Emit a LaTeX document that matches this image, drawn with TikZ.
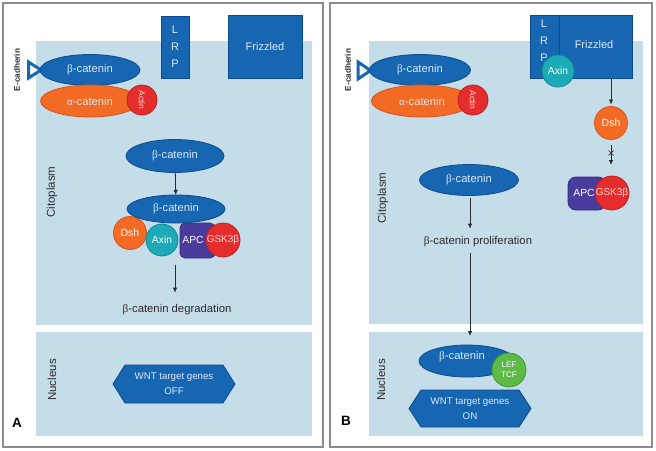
\documentclass[tikz,border=0pt]{standalone}
\usepackage{fontspec}
\setmainfont{Liberation Sans}
\newfontfamily\grk{Liberation Serif}
\usetikzlibrary{shapes.geometric,arrows.meta,calc}
\definecolor{bg}{HTML}{C5DCE9}
\definecolor{frame}{HTML}{8C8C8C}
\definecolor{dblue}{HTML}{1766B2}
\definecolor{dblueb}{HTML}{0C4C8E}
\definecolor{lt}{HTML}{DCE8F6}
\definecolor{orng}{HTML}{F26A24}
\definecolor{orngb}{HTML}{D9531A}
\definecolor{red1}{HTML}{E42D2C}
\definecolor{redb}{HTML}{C21F22}
\definecolor{ltr}{HTML}{FFD6D6}
\definecolor{teal1}{HTML}{1CAAB6}
\definecolor{tealb}{HTML}{0F8893}
\definecolor{purp}{HTML}{4A3C9C}
\definecolor{purpb}{HTML}{372C80}
\definecolor{grn}{HTML}{5DBA47}
\definecolor{grnb}{HTML}{3F9A31}
\definecolor{txt}{HTML}{2B2B2B}
\begin{document}
\begin{tikzpicture}[x=1pt,y=-1pt,
  every node/.style={inner sep=0pt, outer sep=0pt},
  panel/.style={draw=frame, line width=1.3pt, fill=white},
  region/.style={fill=bg, draw=none},
  dbox/.style={rectangle, fill=dblue, draw=dblueb, line width=0.8pt, text=lt, font=\fontsize{11}{13}\selectfont},
  bcat/.style={ellipse, fill=dblue, draw=dblueb, line width=0.8pt, text=lt, minimum width=100pt, minimum height=31pt, font=\fontsize{11.2}{13}\selectfont},
  acat/.style={ellipse, fill=orng, draw=orngb, line width=0.8pt, text=lt, minimum width=100pt, minimum height=32pt, font=\fontsize{11.2}{13}\selectfont},
  actin/.style={circle, fill=red1, draw=redb, line width=0.8pt, minimum size=30pt, rotate=-90, text=ltr, font=\fontsize{8.5}{10}\selectfont},
  dsh/.style={circle, fill=orng, draw=orngb, line width=0.8pt, minimum size=33pt, text=white, font=\fontsize{10.5}{12}\selectfont},
  axin/.style={circle, fill=teal1, draw=tealb, line width=0.8pt, minimum size=32pt, text=white, font=\fontsize{10.3}{12}\selectfont},
  gsk/.style={circle, fill=red1, draw=redb, line width=0.8pt, minimum size=34pt, text=ltr, font=\fontsize{10}{12}\selectfont},
  apc/.style={fill=purp, draw=purpb, line width=0.8pt},
  apctext/.style={text=white, font=\fontsize{10.3}{12}\selectfont},
  lef/.style={circle, fill=grn, draw=grnb, line width=0.8pt, minimum size=34pt, text=white, align=center, font=\fontsize{8}{9.5}\selectfont},
  hex/.style={fill=dblue, draw=dblueb, line width=0.8pt},
  hextext/.style={text=lt, align=center, font=\fontsize{9.7}{15}\selectfont},
  side/.style={rotate=90, text=txt, font=\fontsize{11.5}{13}\selectfont},
  ecad/.style={rotate=90, text=txt, font=\bfseries\fontsize{8.2}{10}\selectfont},
  lab/.style={text=txt, font=\fontsize{11.3}{13}\selectfont},
  tri/.style={fill=white, draw=dblue, line width=3pt, line join=miter},
  arr/.style={draw=txt, line width=0.8pt, -{Latex[length=5pt,width=4.5pt]}},
  pmark/.style={text=black, font=\bfseries\fontsize{13.5}{15}\selectfont}
]
\useasboundingbox (0,0) rectangle (656,450);
\fill[white] (0,0) rectangle (656,450);

% ================= Panel A =================
\draw[panel] (3,3) rectangle (323,447);
\fill[region] (36,41) rectangle (312,325);
\fill[region] (36,332) rectangle (312,436);

\node[dbox, minimum width=28pt, minimum height=62pt, align=center, font=\fontsize{11}{17}\selectfont] (lrpA) at (175,47) {L\\R\\P};
\node[dbox, minimum width=74pt, minimum height=63pt] (frzA) at (265,46.5) {Frizzled};

\node[ecad] (ecA) at (17,70) {E-cadherin};
\draw[tri] (28.5,62) -- (28.5,78) -- (41,70) -- cycle;
\node[bcat] (bA1) at (90,70) {{\grk β}-catenin};
\node[acat, minimum width=99pt] (aA) at (90,101) {{\grk α}-catenin};
\node[actin] (actA) at (142,100) {Actin};

\node[side] (citA) at (52,192) {Citoplasm};
\node[bcat, minimum width=98pt, minimum height=33pt] (bA2) at (175,156) {{\grk β}-catenin};

\node[dsh] (dshA) at (130,233) {Dsh};
\node[axin] (axA) at (162,240) {Axin};
\draw[apc, rounded corners=5pt] (180,223) rectangle (215,258);
\node[gsk] (gskA) at (223,240) {};
\node[apctext] (apcA) at (193,240) {APC};
\node[gsk, draw=none, fill=none] at (223,240) {GSK3β};
\node[bcat, minimum width=98pt, minimum height=28pt] (bA3) at (176,209) {{\grk β}-catenin};
\draw[arr] (bA2) -- (bA3);

\coordinate (dgA) at (175,265);
\node[lab] (degA) at (177,310) {{\grk β}-catenin degradation};
\draw[arr] (dgA) -- (dgA |- degA.north) [shorten >=12pt];

\node[side] (nucA) at (52,380) {Nucleus};
\draw[hex] (113,384) -- (125,365) -- (223,365) -- (235,384) -- (223,403) -- (125,403) -- cycle;
\node[hextext] (genA) at (174,384) {WNT target genes\\OFF};
\node[pmark] (mA) at (17,423) {A};

% ================= Panel B =================
\draw[panel] (330,3) rectangle (652,447);
\fill[region] (369,41) rectangle (643,324);
\fill[region] (369,332) rectangle (643,436);

\node[dbox, minimum width=29pt, minimum height=63pt] (lrpB) at (544.5,46.5) {};
\node[dbox, minimum width=73pt, minimum height=63pt] (frzB) at (595.5,46.5) {};
\node[text=lt, align=center, font=\fontsize{11}{17}\selectfont] (lrpBt) at (544,41) {L\\R\\P};
\node[text=lt, font=\fontsize{11}{13}\selectfont] (frzBt) at (594,45) {Frizzled};
\node[axin] (axB) at (558,71) {Axin};

\node[ecad] (ecB) at (348,70) {E-cadherin};
\draw[tri] (358,62) -- (358,79) -- (370.5,70.5) -- cycle;
\node[bcat, minimum width=101pt] (bB1) at (420,70) {{\grk β}-catenin};
\node[acat, minimum width=101pt] (aB) at (422,101) {{\grk α}-catenin};
\node[actin] (actB) at (473,100) {Actin};

\node[dsh] (dshB) at (611,123) {Dsh};
\draw[arr] (frzB.south -| dshB.north) -- (dshB.north) [shorten >=2pt];

\draw[apc, rounded corners=8pt] (568,177) rectangle (606,210);
\node[gsk] (gskB) at (612,193) {};
\node[apctext] (apcB) at (584,193) {APC};
\node[gsk, draw=none, fill=none] at (612,193) {GSK3β};

\coordinate (xs) at (611,145);
\coordinate (xc) at (611,153);
\draw[arr] (xs) -- (xs |- gskB.north) [shorten >=11pt];
\draw[txt, line width=0.7pt] ($(xc)+(-2.5,-2.5)$) -- ($(xc)+(2.5,2.5)$);
\draw[txt, line width=0.7pt] ($(xc)+(2.5,-2.5)$) -- ($(xc)+(-2.5,2.5)$);

\node[side] (citB) at (383,198) {Citoplasm};
\node[bcat, minimum width=99pt] (bB2) at (469,180) {{\grk β}-catenin};
\node[lab] (prolB) at (478,242) {{\grk β}-catenin proliferation};
\coordinate (pA0) at (470,0);
\draw[arr] (bB2.south -| pA0) -- (prolB.north -| pA0) [shorten <=2pt, shorten >=8pt];

\node[side] (nucB) at (381,380) {Nucleus};
\node[bcat, minimum width=96pt, minimum height=32pt] (bB3) at (467,361) {};
\node[text=lt, font=\fontsize{11.2}{13}\selectfont] at (462,357) {{\grk β}-catenin};
\node[lef] (lefB) at (509,370) {LEF\\TCF};
\coordinate (pB) at (470,253);
\draw[arr] (pB) -- (pB |- bB3.north) [shorten >=9pt];

\draw[hex] (409,408.5) -- (421,390) -- (519,390) -- (531,408.5) -- (519,427) -- (421,427) -- cycle;
\node[hextext] (genB) at (470,409) {WNT target genes\\ON};
\node[pmark] (mB) at (346,421) {B};
\end{tikzpicture}
\end{document}
